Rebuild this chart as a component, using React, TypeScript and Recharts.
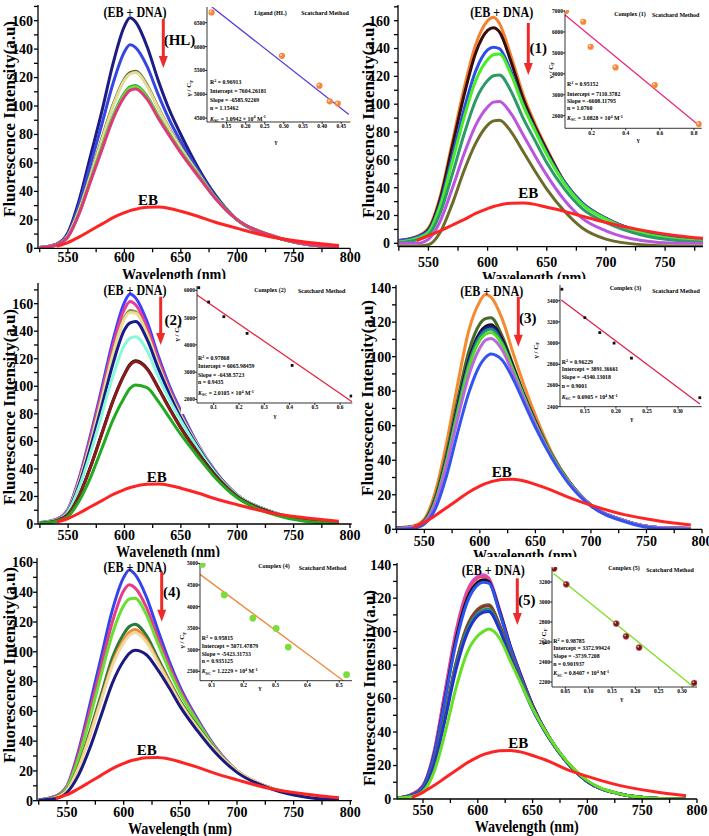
import React from 'react';
import { LineChart, Line, XAxis, YAxis, ComposedChart, Scatter } from 'recharts';

const SERIF = '"Liberation Serif", "Times New Roman", serif';

// wavelength grid (nm) shared by every spectrum
const WL = [525, 540, 550, 560, 570, 580, 590, 600, 605, 610, 620, 630, 640, 650, 665, 680, 700, 730, 760, 790];

// ---- Ligand (HL)
const hlNavy = [0.5, 3, 11, 34, 65, 96, 130, 156, 162, 159, 142, 118, 97, 80, 57, 38, 20, 9, 3, 1];
const hlBlue = [0.5, 3, 10, 31, 59, 87, 116, 138, 143, 141, 128, 108, 90, 75, 55, 37, 20, 9, 3, 1];
const hlOlive = [0.5, 2.5, 9, 27, 52, 77, 101, 119, 123.5, 124.5, 115, 99, 84, 71, 53, 36, 20, 9, 3, 1];
const hlKhaki = [0.5, 2.5, 9, 27, 51, 76, 100, 118, 122.5, 123.5, 114, 98.5, 83.5, 70.5, 53, 36, 20, 9, 3, 1];
const hlGreen = [0.5, 2.5, 8, 25, 48, 71, 93, 109, 113.5, 114.5, 107, 93, 80, 68, 52, 36, 20, 9, 3, 1];
const hlLime = [0.5, 2.5, 8, 25, 47.5, 70, 92, 108, 112.5, 113.5, 106, 92.5, 79.5, 67.5, 51.5, 36, 20, 9, 3, 1];
const hlPink = [0.5, 2.5, 8, 24.5, 47, 69, 91, 106.5, 111, 112, 105, 91.5, 79, 67, 51, 35.5, 20, 9, 3, 1];
const hlEB = [null, 1.5, 4, 8, 12.5, 17, 21.5, 25, 26.5, 27.5, 28.8, 29, 28, 26, 22.5, 18.5, 14, 8, 4.5, 2];

// ---- Complex (1)
const c1Orange = [2, 5, 11, 34, 72, 111, 143, 160, 162.5, 158, 134, 107, 86, 68, 44, 29, 18, 8, 3.5, 2];
const c1Black = [2, 4.5, 10, 32, 69, 106, 137, 153, 155, 152, 130, 104, 84, 67, 44, 29, 18, 8, 3.5, 2];
const c1Blue = [2, 4.5, 9, 29, 62, 96, 124, 139, 141, 140, 123, 100, 82, 65, 44, 29, 18, 8, 3.5, 2];
const c1Lime = [1, 3.5, 8, 27, 58, 90, 117, 132, 135.5, 136, 121, 99, 81, 64, 43, 28, 17.5, 7.5, 3, 1.5];
const c1Teal = [0.5, 2.5, 6, 22, 49, 78, 103, 117, 120.5, 121, 109, 90, 74, 58, 39, 25, 15, 6, 2, 0.5];
const c1Violet = [0, 0, 3, 16, 39, 64, 85, 98, 101.5, 102, 93, 78, 63, 49, 31, 18, 9, 2, 0, 0];
const c1Olive = [-2, -2, -1, 8, 28, 52, 72, 85, 88, 88.5, 80, 66, 52, 39, 23, 11, 3, -1, -2, -2];
const c1EB = [null, 2, 5.5, 9, 13, 17, 21.5, 25, 26.5, 27.5, 28.8, 29, 28, 26, 23, 19.5, 15, 9.5, 5.5, 3];

// ---- Complex (2)
const c2Blue = [1, 3.5, 11, 34, 65, 99, 134, 161, 167, 164, 147, 122, 100, 82, 58, 39, 21, 9, 3, 1];
const c2Magenta = [1, 3.5, 10.5, 33, 63, 96, 130, 156, 161.5, 159, 143, 119, 98, 80, 57, 38.5, 21, 9, 3, 1];
const c2Olive = [1, 3, 10, 31, 60, 92, 125, 150, 155, 154, 139, 116, 96, 79, 57, 38, 21, 9, 3, 1];
const c2Khaki = [1, 3, 10, 31, 59, 91, 124, 149, 153.5, 153, 138, 115.5, 95.5, 78.5, 57, 38, 21, 9, 3, 1];
const c2Navy = [1, 3, 9.5, 29, 56, 86, 117, 141, 146, 147, 134, 113, 94, 77, 56, 38, 21, 9, 3, 1];
const c2Aqua = [1, 3, 9, 27, 52, 80, 108, 130, 135, 136, 126, 107, 90, 75, 55, 37.5, 21, 9, 3, 1];
const c2Black = [0.5, 2.5, 7, 21, 42, 66, 90, 109, 116, 118.5, 113, 99, 84, 70, 52, 36, 20, 8.5, 2.5, 0.5];
const c2Maroon = [0.5, 2.5, 7, 21, 41.5, 65.5, 89.5, 108.5, 115.5, 118, 112.5, 98.5, 83.5, 69.5, 51.5, 35.5, 20, 8.5, 2.5, 0.5];
const c2Green = [0.5, 2, 5.5, 17, 34, 55, 76, 92, 98.5, 101, 99, 89, 77, 65, 49, 34, 19, 7.5, 2, 0.5];
const c2EB = [null, 1.5, 4, 8, 12.5, 17, 21.5, 25, 26.5, 27.5, 28.8, 29, 28, 26, 22.5, 18.5, 14, 8, 4.5, 2];

// ---- Complex (3)
const c3Orange = [1, 2, 6, 22, 50, 84, 115, 132, 136, 134.5, 122, 102, 83, 66, 44, 28, 14, 5, 1, 0.5];
const c3Olive = [1, 1.5, 5, 19, 44, 75, 103, 119, 122, 122.5, 112, 95, 78, 63, 43, 28, 14, 5, 1, 0.5];
const c3Black = [0.5, 1.5, 4.5, 17, 41, 71, 98, 114, 117.5, 118.5, 110, 94, 77, 62, 42, 27.5, 14, 5, 1, 0.5];
const c3Navy = [0.5, 1.5, 4.5, 17, 40.5, 70, 97, 113, 116.5, 117.5, 109, 93, 77, 62, 42, 27.5, 14, 5, 1, 0.5];
const c3Teal = [0.5, 1.5, 4.5, 16.5, 40, 69, 95.5, 111.5, 115, 116, 108, 92.5, 76.5, 61.5, 42, 27.5, 14, 5, 1, 0.5];
const c3Lime = [0.5, 1.5, 4, 16, 39, 67, 93.5, 109.5, 113, 114, 107, 92, 76, 61, 42, 27.5, 14, 5, 1, 0.5];
const c3Violet = [0.5, 1.5, 4, 15, 37, 64, 89, 105, 109.5, 110.5, 104, 90, 75, 60.5, 41.5, 27, 14, 5, 1, 0.5];
const c3Blue = [0, 0.5, 3, 12, 31, 56, 79, 95, 99.5, 101.5, 98, 87, 73, 59, 41, 26.5, 13.5, 4.5, 0.5, 0];
const c3EB = [null, 1, 4, 8, 12.5, 17, 21.5, 25, 26.5, 27.5, 28.8, 29, 28, 26, 22.5, 18.5, 14, 8.5, 5, 2.5];

// ---- Complex (4)
const c4Blue = [0.5, 3, 10, 33, 64, 96, 128, 150, 155, 152, 137, 115, 94, 76, 55, 37, 20, 8.5, 3, 1];
const c4Pink = [0.5, 3, 9.5, 31, 60, 90, 120, 141, 145, 143, 130, 110, 91, 74, 54, 36.5, 20, 8.5, 3, 1];
const c4Lime = [0.5, 2.5, 9, 28, 55, 84, 112, 131, 135.5, 136, 125, 106, 88, 72, 53, 36, 20, 8.5, 3, 1];
const c4Green = [0.5, 2.5, 7.5, 23, 46, 71, 96, 112, 117, 118.5, 111, 96, 81, 67, 50, 35, 20, 8.5, 3, 1];
const c4Orange = [0.5, 2, 7, 22, 44, 68, 92, 108, 113, 115, 108, 94, 80, 66, 49, 34.5, 20, 8.5, 3, 1];
const c4Khaki = [0.5, 2, 7, 21.5, 43, 67, 90.5, 106, 111, 113, 106.5, 93, 79, 65.5, 49, 34.5, 20, 8.5, 3, 1];
const c4Navy = [0.5, 1.5, 5.5, 17, 35, 57, 79, 94, 99, 101, 98, 88, 76, 63, 47, 33, 19, 8, 2.5, 0.5];
const c4EB = [null, 1.5, 4, 8, 12.5, 17, 21.5, 25, 26.5, 27.5, 28.8, 29, 28, 26, 22.5, 18.5, 14, 8, 4.5, 2];

// ---- Complex (5)
const c5Violet = [0.5, 3, 8, 28, 64, 100, 124, 133, 134, 132, 113, 91, 73, 56, 37, 23, 10.5, 3, 0.5, 0];
const c5Pink = [0.5, 3, 8, 27.5, 63, 98.5, 122.5, 132, 133, 131, 112, 90.5, 72.5, 56, 37, 23, 10.5, 3, 0.5, 0];
const c5Black = [0.5, 2.5, 7.5, 26, 60, 95, 119, 129.5, 131, 130, 112, 90.5, 72.5, 56, 37, 23, 10.5, 3, 0.5, 0];
const c5Blue = [0.5, 2.5, 7.5, 25.5, 59, 93, 117, 128, 129.5, 129, 111, 90, 72, 55.5, 37, 23, 10.5, 3, 0.5, 0];
const c5Olive = [0.5, 2, 6, 21, 50, 81, 103, 113.5, 115.5, 116, 104, 86, 70, 54.5, 36.5, 23, 10.5, 3, 0.5, 0];
const c5Brown = [0.5, 2, 6, 21, 49.5, 80.5, 102.5, 113, 115, 115.5, 103.5, 85.5, 69.5, 54, 36.5, 23, 10.5, 3, 0.5, 0];
const c5Teal = [0.5, 2, 6, 20.5, 48.5, 79, 100.5, 111, 113, 113.5, 102, 84.5, 69, 54, 36.5, 23, 10.5, 3, 0.5, 0];
const c5Navy = [0.5, 2, 5.5, 20, 47, 77, 98.5, 109.5, 111.5, 112, 101, 84, 68.5, 53.5, 36.5, 23, 10.5, 3, 0.5, 0];
const c5Lime = [0.5, 1.5, 4.5, 16, 39, 66, 87, 97.5, 100, 101.5, 96, 82, 68, 54, 37, 23.5, 11, 3, 0.5, 0];
const c5EB = [null, 1, 4, 8, 12.5, 17, 21.5, 25, 26.5, 27.5, 28.8, 29, 28, 26, 22.5, 18, 13.5, 8, 4.5, 2];

// ---- Scatchard insets: gamma, gamma/Cf, and fitted line end points
const hlGamma = [0.111, 0.295, 0.393, 0.42, 0.441, 0.47];
const hlRatio = [6717, 5806, 5181, 4854, 4806, 4369];
const hlFitG = [0.112, 0.47];
const hlFitR = [6830, 4577];

const c1Gamma = [0.05, 0.151, 0.194, 0.34, 0.57, 0.829];
const c1Ratio = [7000, 6488, 5294, 4309, 3463, 1600];
const c1FitG = [0.044, 0.835];
const c1FitR = [6810, 1500];

const c2Gamma = [0.041, 0.08, 0.14, 0.232, 0.41, 0.643];
const c2Ratio = [6099, 5574, 5035, 4422, 3248, 2125];
const c2FitG = [0.034, 0.647];
const c2FitR = [5828, 1915];

const c3Gamma = [0.113, 0.15, 0.174, 0.197, 0.225, 0.335];
const c3Ratio = [3508, 3240, 3099, 3000, 2858, 2485];
const c3FitG = [0.112, 0.335];
const c3FitR = [3407, 2425];

const c4Gamma = [0.07, 0.139, 0.229, 0.302, 0.34, 0.523];
const c4Ratio = [4977, 4269, 3730, 3493, 3062, 2422];
const c4FitG = [0.063, 0.513];
const c4FitR = [4746, 2283];

const c5Gamma = [0.026, 0.052, 0.159, 0.18, 0.208, 0.326];
const c5Ratio = [3334, 3177, 2784, 2657, 2544, 2190];
const c5FitG = [0.025, 0.325];
const c5FitR = [3284, 2150];

const RED = '#ff2424';
const X_TICKS = [525, 550, 575, 600, 625, 650, 675, 700, 725, 750, 775, 800];
const Y_TICKS_170 = [0, 10, 20, 30, 40, 50, 60, 70, 80, 90, 100, 110, 120, 130, 140, 150, 160, 170];
const Y_TICKS_140 = [0, 10, 20, 30, 40, 50, 60, 70, 80, 90, 100, 110, 120, 130, 140];

const PANELS = [
  {
    L: 38.3, R: 350.5, T: 5, B: 248.3, xd: [523.5, 800], yd: [0, 171], yt: Y_TICKS_170, xGap: 0, yGap: 1,
    curves: [
      { v: hlNavy, c: '#1c1c82' }, { v: hlBlue, c: '#3646e0' }, { v: hlOlive, c: '#5a6a30' },
      { v: hlKhaki, c: '#e4dc96' }, { v: hlGreen, c: '#26b040' }, { v: hlLime, c: '#70e030' }, { v: hlPink, c: '#dc3a7c' },
    ],
    eb: hlEB, xTitle: [174, 274], yTitle: [9, 119], ebdna: [135, 11.7], tag: ['(HL)', 179.5, 40],
    arrow: [163.3, 19, 68], ebl: [148, 200], clip: 'row1',
  },
  {
    L: 398, R: 703, T: 5, B: 246.7, xd: [524.3, 782], yd: [-2.4, 171.3], yt: Y_TICKS_170, xGap: 6.5, yGap: 4,
    curves: [
      { v: c1Orange, c: '#f4822c' }, { v: c1Black, c: '#3a0c0c' }, { v: c1Blue, c: '#2a50e8' },
      { v: c1Lime, c: '#48ee22' }, { v: c1Teal, c: '#2e9a6a' }, { v: c1Violet, c: '#bb55dd' }, { v: c1Olive, c: '#6b6b2a' },
    ],
    eb: c1EB, xTitle: [534, 277], yTitle: [368.5, 120], ebdna: [501.7, 11.7], tag: ['(1)', 538.3, 48.3],
    arrow: [528.3, 23, 75], ebl: [528.3, 193.3], clip: 'row1',
  },
  {
    L: 38, R: 351.7, T: 283.3, B: 524.3, xd: [523.3, 801.5], yd: [0, 175], yt: Y_TICKS_170, xGap: 2.4, yGap: 0.7,
    curves: [
      { v: c2Blue, c: '#3c40ff' }, { v: c2Magenta, c: '#ee3a96' }, { v: c2Olive, c: '#8a8a44' },
      { v: c2Khaki, c: '#e8df94' }, { v: c2Navy, c: '#1a1a90' }, { v: c2Aqua, c: '#88f8da' },
      { v: c2Black, c: '#111111' }, { v: c2Maroon, c: '#8b1a1a' }, { v: c2Green, c: '#22aa22' },
    ],
    eb: c2EB, xTitle: [168, 551], yTitle: [9, 407], ebdna: [135, 290], tag: ['(2)', 173.3, 320],
    arrow: [160.7, 296.7, 345], ebl: [156.7, 476.7], clip: 'row2',
  },
  {
    L: 395.7, R: 701.7, T: 285, B: 529.3, xd: [524.5, 800], yd: [0, 141.5], yt: Y_TICKS_140, xGap: 2.4, yGap: 0.7,
    curves: [
      { v: c3Orange, c: '#f58a30' }, { v: c3Olive, c: '#4a6a2a' }, { v: c3Black, c: '#111111' },
      { v: c3Navy, c: '#1a1a8a' }, { v: c3Teal, c: '#2a8a8a' }, { v: c3Lime, c: '#55dd22' },
      { v: c3Violet, c: '#bb66dd' }, { v: c3Blue, c: '#3355ee' },
    ],
    eb: c3EB, xTitle: [525, 555], yTitle: [367.5, 398], ebdna: [491.7, 291], tag: ['(3)', 527.7, 317.7],
    arrow: [518.3, 296.7, 346.7], ebl: [501.7, 471.7], clip: 'row2',
  },
  {
    L: 36.7, R: 351.7, T: 558.3, B: 801, xd: [523.5, 801.5], yd: [0, 163], yt: Y_TICKS_170.slice(0, 17), xGap: 2.5, yGap: 0,
    curves: [
      { v: c4Blue, c: '#3344ee' }, { v: c4Pink, c: '#e63c8a' }, { v: c4Lime, c: '#66e033' },
      { v: c4Green, c: '#2a7a3a' }, { v: c4Orange, c: '#f08a30' }, { v: c4Khaki, c: '#f0d8a0' }, { v: c4Navy, c: '#1a1a80' },
    ],
    eb: c4EB, xTitle: [180, 828], yTitle: [9, 665], ebdna: [135, 566.7], tag: ['(4)', 171.7, 591.7],
    arrow: [161.7, 571.7, 621.7], ebl: [146.7, 750], clip: 'row3',
  },
  {
    L: 396.7, R: 696.7, T: 563.3, B: 799.3, xd: [526.3, 800], yd: [0, 141], yt: Y_TICKS_140, xGap: 2.5, yGap: 1.7,
    curves: [
      { v: c5Violet, c: '#cc55dd' }, { v: c5Pink, c: '#ee4488' }, { v: c5Black, c: '#111111' },
      { v: c5Blue, c: '#2a55ee' }, { v: c5Olive, c: '#707030' }, { v: c5Brown, c: '#8b3a2a' },
      { v: c5Teal, c: '#2a8a7a' }, { v: c5Navy, c: '#2233cc' }, { v: c5Lime, c: '#66e022' },
    ],
    eb: c5EB, xTitle: [526.7, 826.5], yTitle: [369, 688], ebdna: [493.3, 570], tag: ['(5)', 526.7, 600],
    arrow: [517.3, 578.3, 625], ebl: [518.3, 743.3], clip: 'row3',
  },
];

const f2 = (v: number) => v.toFixed(2);
const f1 = (v: number) => v.toFixed(1);

const INSETS = [
  {
    L: 207.3, R: 350.7, T: 7, B: 122, xd: [0.099, 0.474], yd: [4420, 6830],
    xt: [0.15, 0.2, 0.25, 0.3, 0.35, 0.4, 0.45], yt: [4500, 5000, 5500, 6000, 6500], fx: f2,
    g: hlGamma, r: hlRatio, fg: hlFitG, fr: hlFitR, line: '#5a3ad8', pt: 'orange',
    title: ['Ligand (HL)', 270.5, 13], method: [325, 13], stX: 210, stY: [82, 91, 99.5, 108, 118.5],
    stats: ['0.96913', '7604.26181', '-6585.92269', '1.15462', '1.0942'], yl: [189, 88], gl: [276, 141.7],
  },
  {
    L: 565, R: 701.7, T: 10, B: 128.3, xd: [0.044, 0.845], yd: [1400, 7050],
    xt: [0.2, 0.4, 0.6, 0.8], yt: [2000, 3000, 4000, 5000, 6000, 7000], fx: f1,
    g: c1Gamma, r: c1Ratio, fg: c1FitG, fr: c1FitR, line: '#e8287a', pt: 'orange',
    title: ['Complex (1)', 630, 13.7], method: [675.7, 15], stX: 567, stY: [84, 94.3, 101, 108, 118],
    stats: ['0.95152', '7110.3782', '-6608.11795', '1.0760', '3.0828'], yl: [550.7, 70], gl: [638.3, 139.3],
  },
  {
    L: 196.7, R: 352, T: 286.3, B: 403.3, xd: [0.034, 0.648], yd: [1870, 6160],
    xt: [0.1, 0.2, 0.3, 0.4, 0.5, 0.6], yt: [2000, 3000, 4000, 5000, 6000], fx: f1,
    g: c2Gamma, r: c2Ratio, fg: c2FitG, fr: c2FitR, line: '#e8203c', pt: 'square',
    title: ['Complex (2)', 270, 290], method: [321.7, 291], stX: 198, stY: [358, 366.3, 374.7, 382.3, 393],
    stats: ['0.97868', '6065.98459', '-6438.5723', '0.9435', '2.0105'], yl: [177.3, 333], gl: [275, 415],
  },
  {
    L: 560, R: 701.7, T: 285, B: 406.7, xd: [0.11, 0.338], yd: [2400, 3548],
    xt: [0.15, 0.2, 0.25, 0.3], yt: [2400, 2600, 2800, 3000, 3200, 3400], fx: f2,
    g: c3Gamma, r: c3Ratio, fg: c3FitG, fr: c3FitR, line: '#e0204a', pt: 'square',
    title: ['Complex (3)', 625.5, 288.3], method: [676, 290.7], stX: 561.7, stY: [361.7, 369.3, 377.3, 386, 396.7],
    stats: ['0.96229', '3891.36661', '-4340.13018', '0.9001', '0.6905'], yl: [535.7, 350], gl: [631.7, 418.3],
  },
  {
    L: 200, R: 352, T: 563, B: 680.7, xd: [0.063, 0.54], yd: [2283, 5010],
    xt: [0.1, 0.2, 0.3, 0.4, 0.5], yt: [2500, 3000, 3500, 4000, 4500, 5000], fx: f1,
    g: c4Gamma, r: c4Ratio, fg: c4FitG, fr: c4FitR, line: '#f0883a', pt: 'green',
    title: ['Complex (4)', 274, 566.3], method: [322.5, 568], stX: 201.7, stY: [638, 646.3, 654, 661.3, 671.3],
    stats: ['0.95815', '5071.47879', '-5423.31733', '0.935125', '1.2229'], yl: [182, 640], gl: [260, 687],
  },
  {
    L: 551.7, R: 696.7, T: 566.7, B: 686.7, xd: [0.0215, 0.332], yd: [2150, 3350],
    xt: [0.05, 0.1, 0.15, 0.2, 0.25, 0.3], yt: [2200, 2400, 2600, 2800, 3000, 3200], fx: f2,
    g: c5Gamma, r: c5Ratio, fg: c5FitG, fr: c5FitR, line: '#7ee020', pt: 'maroon',
    title: ['Complex (5)', 624, 568.3], method: [670, 570], stX: 553.3, stY: [640.7, 648.3, 656, 664, 673.3],
    stats: ['0.98785', '3372.99424', '-3739.7208', '0.901937', '0.8407'], yl: [544, 636.7], gl: [621.7, 698.3],
  },
];

const bold = { fontFamily: SERIF, fontWeight: 700, fill: '#000' };

const xTick = (props: any) => {
  const { x, y, payload } = props;
  const v = payload.value;
  if (v % 50 !== 0) return <g />;
  return (
    <text x={x} y={y} dy="0.71em" textAnchor="middle" fontSize={14} {...bold}>{v}</text>
  );
};

const yTick = (props: any) => {
  const { x, y, payload } = props;
  const v = payload.value;
  if (v % 20 !== 0) return <g />;
  return (
    <text x={x} y={y} dy="0.35em" textAnchor="end" fontSize={14} {...bold}>{v}</text>
  );
};

function Spectra({ p }: { p: any }) {
  const YW = 40, XH = 34, MT = 4, MR = 22;
  const w = p.R - p.L, h = p.B - p.T;
  const rows = WL.map((wl, i) => {
    const r: any = { wl };
    p.curves.forEach((c: any, k: number) => { r['s' + k] = c.v[i]; });
    r.eb = p.eb[i];
    return r;
  });
  const ticksX = X_TICKS.filter((t) => t >= p.xd[0] && t <= p.xd[1]);
  return (
    <div style={{ position: 'absolute', left: p.L - YW, top: p.T - MT }}>
      <LineChart width={YW + w + MR} height={MT + h + XH} data={rows} margin={{ top: MT, right: MR, bottom: 0, left: 0 }}>
        <XAxis dataKey="wl" type="number" domain={p.xd} allowDataOverflow ticks={ticksX} interval={0}
          tick={xTick} tickSize={4} tickMargin={p.xGap} height={XH} stroke="#000" strokeWidth={1.3} />
        <XAxis xAxisId="top" orientation="top" dataKey="wl" type="number" domain={p.xd} allowDataOverflow
          tick={false} tickLine={false} height={0} stroke="#000" strokeWidth={1.3} />
        <YAxis type="number" domain={p.yd} allowDataOverflow ticks={p.yt} interval={0} tick={yTick}
          tickSize={4} tickMargin={p.yGap} width={YW} stroke="#000" strokeWidth={1.3} />
        <YAxis yAxisId="r" orientation="right" type="number" domain={[0, 1]} tick={false} tickLine={false}
          width={0} stroke="#000" strokeWidth={1.3} />
        {p.curves.map((c: any, k: number) => (
          <Line key={k} dataKey={'s' + k} type="monotone" stroke={c.c} strokeWidth={3} dot={false}
            isAnimationActive={false} />
        ))}
        <Line dataKey="eb" type="monotone" stroke={RED} strokeWidth={3} dot={false} isAnimationActive={false} />
      </LineChart>
    </div>
  );
}

const dotShape = (kind: string) => (props: any) => {
  const { cx, cy } = props;
  if (cx == null || cy == null) return <g />;
  if (kind === 'square') return <rect x={cx - 1.4} y={cy - 1.4} width={2.8} height={2.8} fill="#111" />;
  if (kind === 'green') return <circle cx={cx} cy={cy} r={3.4} fill="#7ddc3a" />;
  if (kind === 'maroon') {
    return (
      <g>
        <circle cx={cx} cy={cy} r={3.1} fill="#7a1515" stroke="#c9868a" strokeWidth={0.6} />
        <circle cx={cx - 0.9} cy={cy - 0.9} r={0.9} fill="#e8b0b0" />
      </g>
    );
  }
  return (
    <g>
      <circle cx={cx} cy={cy} r={3.1} fill="#f5883a" />
      <circle cx={cx - 0.9} cy={cy - 0.9} r={1} fill="#fde0c0" />
    </g>
  );
};

function Inset({ s }: { s: any }) {
  const YW = 16, XH = 11, MT = 4, MR = 1;
  const w = s.R - s.L, h = s.B - s.T;
  const pts = s.g.map((g: number, i: number) => ({ x: g, y: s.r[i] }));
  const fit = s.fg.map((g: number, i: number) => ({ x: g, y: s.fr[i] }));
  const tickStyle = { fontSize: 5.5, fontWeight: 700, fontFamily: SERIF, fill: '#000' };
  return (
    <div style={{ position: 'absolute', left: s.L - YW, top: s.T - MT }}>
      <ComposedChart width={YW + w + MR} height={MT + h + XH} margin={{ top: MT, right: MR, bottom: 0, left: 0 }}>
        <XAxis dataKey="x" type="number" domain={s.xd} allowDataOverflow ticks={s.xt} interval={0}
          tickFormatter={s.fx} tick={tickStyle} tickSize={2} tickMargin={0.5} height={XH} stroke="#000" strokeWidth={0.8} />
        <XAxis xAxisId="top" orientation="top" dataKey="x" type="number" domain={s.xd} allowDataOverflow
          tick={false} tickLine={false} height={0} stroke="#000" strokeWidth={0.8} />
        <YAxis dataKey="y" type="number" domain={s.yd} allowDataOverflow ticks={s.yt} interval={0}
          tick={tickStyle} tickSize={2} tickMargin={0} width={YW} stroke="#000" strokeWidth={0.8} />
        <YAxis yAxisId="r" orientation="right" type="number" domain={[0, 1]} tick={false} tickLine={false}
          width={0} stroke="#000" strokeWidth={0.8} />
        <Line data={fit} dataKey="y" type="linear" stroke={s.line} strokeWidth={1.3} dot={false} isAnimationActive={false} />
        <Scatter data={pts} dataKey="y" shape={dotShape(s.pt)} isAnimationActive={false} />
      </ComposedChart>
    </div>
  );
}

function InsetBack({ s }: { s: any }) {
  return (
    <div style={{ position: 'absolute', left: s.L - 16, top: s.T - 1, width: s.R - s.L + 17, height: s.B - s.T + 12, background: '#fff' }} />
  );
}

function InsetText({ s }: { s: any }) {
  const fs = 5.8;
  const sm = 4.2;
  const [r2, icp, slope, n, k] = s.stats;
  return (
    <g {...bold}>
      <text x={s.title[1]} y={s.title[2]} fontSize={6} textAnchor="middle" dominantBaseline="central">{s.title[0]}</text>
      <text x={s.method[0]} y={s.method[1]} fontSize={6} textAnchor="middle" dominantBaseline="central">Scatchard Method</text>
      <text x={s.stX} y={s.stY[0] + 2} fontSize={fs}>R<tspan fontSize={sm} dy={-2.2}>2</tspan><tspan dy={2.2}> = {r2}</tspan></text>
      <text x={s.stX} y={s.stY[1] + 2} fontSize={fs}>Intercept = {icp}</text>
      <text x={s.stX} y={s.stY[2] + 2} fontSize={fs}>Slope  = {slope}</text>
      <text x={s.stX} y={s.stY[3] + 2} fontSize={fs}>n =  {n}</text>
      <text x={s.stX} y={s.stY[4] + 2} fontSize={fs}>
        <tspan fontStyle="italic">K</tspan><tspan fontSize={sm} dy={1.3}>SC</tspan>
        <tspan dy={-1.3}> = {k} × 10</tspan><tspan fontSize={sm} dy={-2.2}>4</tspan>
        <tspan dy={2.2}> M</tspan><tspan fontSize={sm} dy={-2.2}>-1</tspan>
      </text>
      <text x={s.yl[0]} y={s.yl[1]} fontSize={7} textAnchor="middle" dominantBaseline="central"
        transform={`rotate(-90 ${s.yl[0]} ${s.yl[1]})`}>
        γ / C<tspan fontSize={5} dy={1.5}>F</tspan>
      </text>
      <text x={s.gl[0]} y={s.gl[1]} fontSize={6.5} textAnchor="middle" dominantBaseline="central">γ</text>
    </g>
  );
}

function PanelText({ p }: { p: any }) {
  const [ax, ay1, ay2] = p.arrow;
  return (
    <g {...bold}>
      <g clipPath={`url(#${p.clip})`}>
        <text x={p.xTitle[0]} y={p.xTitle[1]} fontSize={16} textAnchor="middle" dominantBaseline="central"
          textLength={104} lengthAdjust="spacingAndGlyphs">Wavelength (nm)</text>
      </g>
      <text x={p.yTitle[0]} y={p.yTitle[1]} fontSize={17} textAnchor="middle" dominantBaseline="central"
        textLength={196} lengthAdjust="spacingAndGlyphs"
        transform={`rotate(-90 ${p.yTitle[0]} ${p.yTitle[1]})`}>Fluorescence Intensity(a.u)</text>
      <text x={p.ebdna[0]} y={p.ebdna[1]} fontSize={15} textAnchor="middle" dominantBaseline="central"
        textLength={63} lengthAdjust="spacingAndGlyphs">(EB + DNA)</text>
      <text x={p.tag[1]} y={p.tag[2]} fontSize={15} textAnchor="middle" dominantBaseline="central">{p.tag[0]}</text>
      <text x={p.ebl[0]} y={p.ebl[1]} fontSize={15} textAnchor="middle" dominantBaseline="central">EB</text>
      <line x1={ax} x2={ax} y1={ay1} y2={ay2 - 10} stroke="#ee2a2a" strokeWidth={3} />
      <polygon points={`${ax - 4.5},${ay2 - 12} ${ax + 4.5},${ay2 - 12} ${ax},${ay2}`} fill="#ee2a2a" />
    </g>
  );
}

export default function App() {
  return (
    <div style={{ position: 'absolute', left: 0, top: 0, width: 709, height: 836, background: '#fff', overflow: 'hidden' }}>
      {PANELS.map((p, i) => <Spectra key={'p' + i} p={p} />)}
      {INSETS.map((s, i) => <InsetBack key={'b' + i} s={s} />)}
      {INSETS.map((s, i) => <Inset key={'i' + i} s={s} />)}
      <svg width={709} height={836} style={{ position: 'absolute', left: 0, top: 0, pointerEvents: 'none' }}>
        <defs>
          <clipPath id="row1"><rect x={0} y={0} width={709} height={279} /></clipPath>
          <clipPath id="row2"><rect x={0} y={279} width={709} height={278} /></clipPath>
          <clipPath id="row3"><rect x={0} y={557} width={709} height={279} /></clipPath>
        </defs>
        {PANELS.map((p, i) => <PanelText key={'t' + i} p={p} />)}
        {INSETS.map((s, i) => <InsetText key={'s' + i} s={s} />)}
      </svg>
    </div>
  );
}
